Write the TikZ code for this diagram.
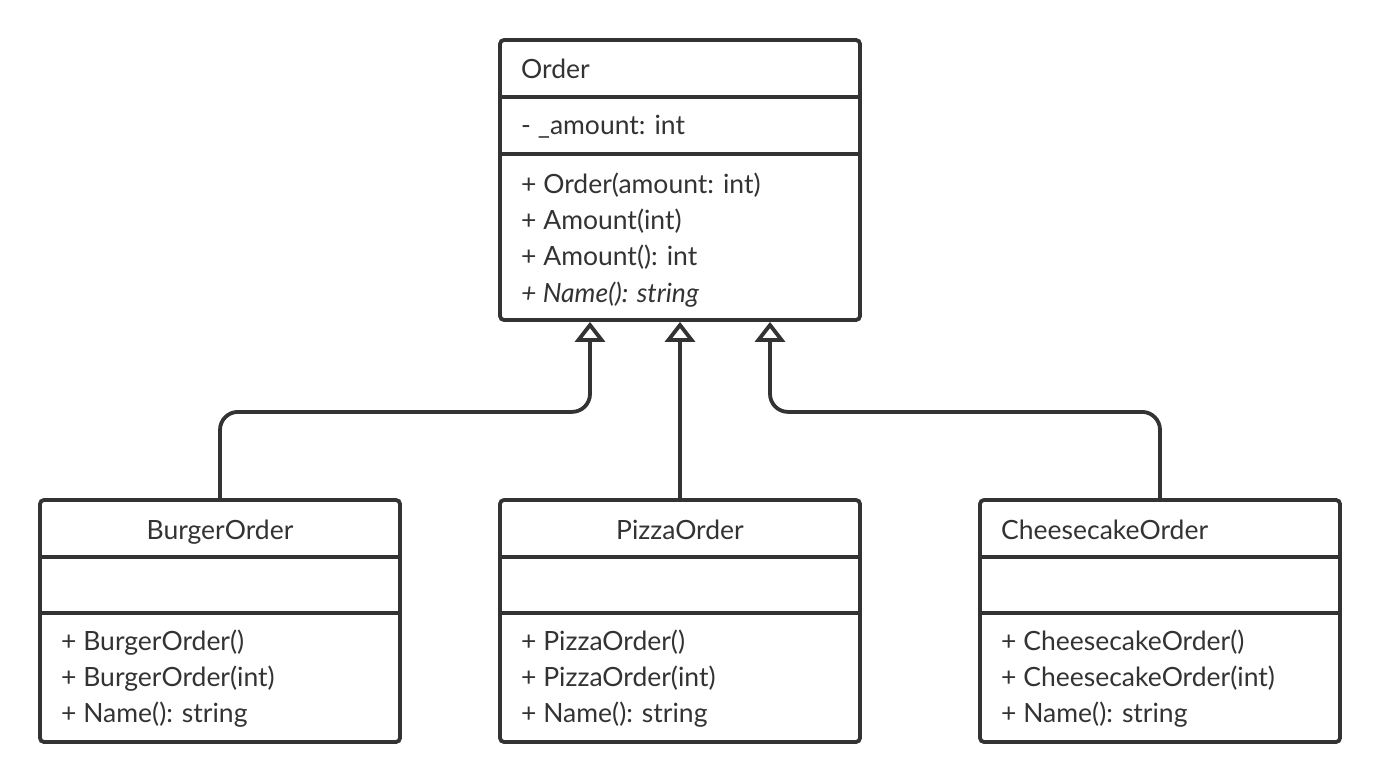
\documentclass[tikz,border=0pt]{standalone}
\usepackage{fontspec}
\setmainfont{Lato}
\usetikzlibrary{arrows.meta,calc}
\definecolor{ink}{HTML}{333333}
\begin{document}
\begin{tikzpicture}[x=1pt,y=-1pt,
  umlbox/.style={draw=ink, line width=3.8pt, rounded corners=4pt, fill=white, inner sep=0pt},
  divider/.style={draw=ink, line width=3.3pt},
  txt/.style={anchor=base west, inner sep=0pt, text=ink, font=\fontsize{26.5}{30}\selectfont},
  ctxt/.style={anchor=base, inner sep=0pt, text=ink, font=\fontsize{26.5}{30}\selectfont},
  inh/.style={draw=ink, line width=3.8pt, rounded corners=18pt, -{Triangle[open, length=20pt, width=30pt]}}
]
\useasboundingbox (0,0) rectangle (1380,783);

% Order
\node[umlbox, minimum width=360pt, minimum height=280pt] (order) at (680,180) {};
\draw[divider] (order.west |- 0,97) -- (order.east |- 0,97);
\draw[divider] (order.west |- 0,154) -- (order.east |- 0,154);
\node[txt] (ordername) at (521,79) {Order};
\node[txt] (orderattr) at (521,135) {- \_amount: int};
\node[txt] (orderm1) at (521,194) {+ Order(amount: int)};
\node[txt] (orderm2) at (521,230) {+ Amount(int)};
\node[txt] (orderm3) at (521,266) {+ Amount(): int};
\node[txt] (orderm4) at (521,302) {\itshape + Name(): string};

% BurgerOrder
\node[umlbox, minimum width=360pt, minimum height=242pt] (burger) at (220,621) {};
\draw[divider] (burger.west |- 0,557) -- (burger.east |- 0,557);
\draw[divider] (burger.west |- 0,613) -- (burger.east |- 0,613);
\node[ctxt] (burgername) at (220,539) {BurgerOrder};
\node[txt] (burgerm1) at (61,650) {+ BurgerOrder()};
\node[txt] (burgerm2) at (61,686) {+ BurgerOrder(int)};
\node[txt] (burgerm3) at (61,722) {+ Name(): string};

% PizzaOrder
\node[umlbox, minimum width=360pt, minimum height=242pt] (pizza) at (680,621) {};
\draw[divider] (pizza.west |- 0,557) -- (pizza.east |- 0,557);
\draw[divider] (pizza.west |- 0,613) -- (pizza.east |- 0,613);
\node[ctxt] (pizzaname) at (680,539) {PizzaOrder};
\node[txt] (pizzam1) at (521,650) {+ PizzaOrder()};
\node[txt] (pizzam2) at (521,686) {+ PizzaOrder(int)};
\node[txt] (pizzam3) at (521,722) {+ Name(): string};

% CheesecakeOrder
\node[umlbox, minimum width=360pt, minimum height=242pt] (cheese) at (1160,621) {};
\draw[divider] (cheese.west |- 0,557) -- (cheese.east |- 0,557);
\draw[divider] (cheese.west |- 0,613) -- (cheese.east |- 0,613);
\node[txt] (cheesename) at (1001,539) {CheesecakeOrder};
\node[txt] (cheesem1) at (1001,650) {+ CheesecakeOrder()};
\node[txt] (cheesem2) at (1001,686) {+ CheesecakeOrder(int)};
\node[txt] (cheesem3) at (1001,722) {+ Name(): string};

% Inheritance
\draw[inh] (burger.north) |- ($(order.south)+(-90,90)$) -- ($(order.south)+(-90,0)$);
\draw[inh] (pizza.north) -- (order.south);
\draw[inh] (cheese.north) |- ($(order.south)+(90,90)$) -- ($(order.south)+(90,0)$);
\end{tikzpicture}
\end{document}
